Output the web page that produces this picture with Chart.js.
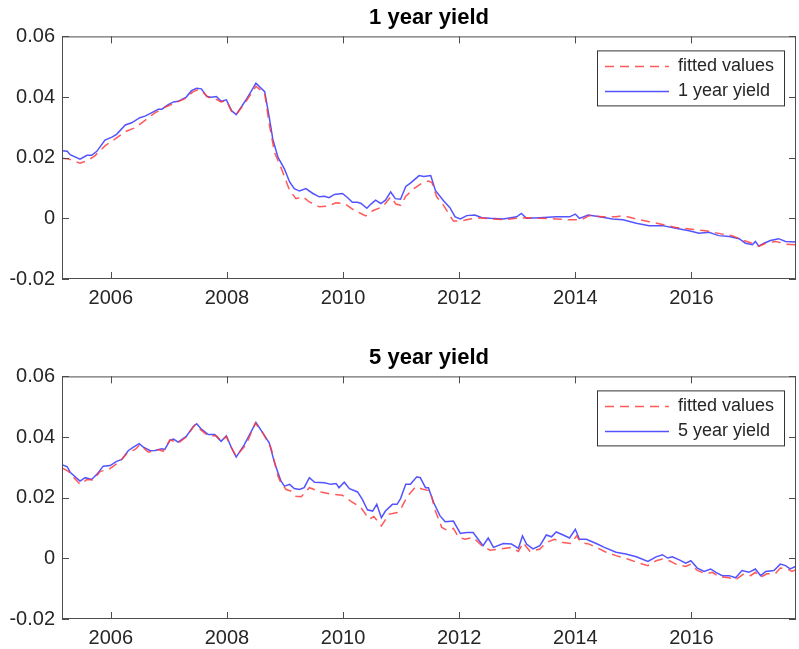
<!DOCTYPE html>
<html>
<head>
<meta charset="utf-8">
<script src="https://cdn.jsdelivr.net/npm/chart.js@4.4.1/dist/chart.umd.min.js"></script>
<style>
  body { margin: 0; background: #fff; overflow: hidden; width: 799px; height: 649px; }
  canvas { position: absolute; left: 0; }
  #grafico1 { top: 0; }
  #grafico5 { top: 340px; }
</style>
</head>
<body>
<canvas id="grafico1" width="799" height="325"></canvas>
<canvas id="grafico5" width="799" height="325"></canvas>
<script>
// ---- ticks ----
const xTicks = [2006, 2008, 2010, 2012, 2014, 2016];
const yTicks = [-0.02, 0, 0.02, 0.04, 0.06];
const xMin = 2005.16;
const xMax = 2017.8;

// ---- 1 year yield ----
const anos1Yield = [
  2005.16, 2005.25, 2005.30, 2005.47, 2005.59, 2005.67, 2005.76, 2005.90, 2006.02, 2006.10,
  2006.25, 2006.36, 2006.50, 2006.59, 2006.70, 2006.82, 2006.88, 2006.99, 2007.08, 2007.16,
  2007.30, 2007.39, 2007.48, 2007.56, 2007.65, 2007.73, 2007.82, 2007.90, 2007.99, 2008.08,
  2008.16, 2008.33, 2008.50, 2008.65, 2008.73, 2008.79, 2008.88, 2008.99, 2009.08, 2009.16,
  2009.25, 2009.36, 2009.48, 2009.59, 2009.68, 2009.76, 2009.85, 2009.99, 2010.08, 2010.16,
  2010.25, 2010.31, 2010.41, 2010.48, 2010.56, 2010.65, 2010.73, 2010.82, 2010.90, 2010.99,
  2011.08, 2011.16, 2011.31, 2011.39, 2011.51, 2011.59, 2011.73, 2011.84, 2011.93, 2012.02,
  2012.13, 2012.27, 2012.39, 2012.53, 2012.76, 2012.99, 2013.07, 2013.16, 2013.39, 2013.67,
  2013.90, 2014.00, 2014.07, 2014.22, 2014.42, 2014.64, 2014.82, 2015.05, 2015.27, 2015.50,
  2015.73, 2015.96, 2016.13, 2016.30, 2016.47, 2016.65, 2016.82, 2016.93, 2017.05, 2017.10,
  2017.16, 2017.25, 2017.36, 2017.50, 2017.62, 2017.79
];
const valores1Yield = [
  0.0223, 0.0221, 0.0210, 0.0195, 0.0208, 0.0208, 0.0221, 0.0258, 0.0268, 0.0277,
  0.0308, 0.0315, 0.0332, 0.0337, 0.0348, 0.0360, 0.0360, 0.0375, 0.0384, 0.0386,
  0.0400, 0.0421, 0.0429, 0.0427, 0.0402, 0.0399, 0.0402, 0.0386, 0.0391, 0.0355,
  0.0342, 0.0391, 0.0446, 0.0418, 0.0332, 0.0261, 0.0201, 0.0163, 0.0120, 0.0098,
  0.0090, 0.0098, 0.0082, 0.0071, 0.0073, 0.0068, 0.0079, 0.0082, 0.0068, 0.0053,
  0.0053, 0.0049, 0.0033, 0.0047, 0.0060, 0.0049, 0.0060, 0.0087, 0.0065, 0.0063,
  0.0105, 0.0116, 0.0141, 0.0138, 0.0141, 0.0092, 0.0058, 0.0035, 0.0005, -0.0002,
  0.0009, 0.0011, 0.0002, 0.0000, -0.0002, 0.0005, 0.0016, 0.0000, 0.0002, 0.0005,
  0.0005, 0.0014, 0.0000, 0.0011, 0.0005, -0.0002, -0.0005, -0.0016, -0.0024, -0.0024,
  -0.0033, -0.0041, -0.0049, -0.0046, -0.0057, -0.0060, -0.0067, -0.0082, -0.0087, -0.0076,
  -0.0092, -0.0082, -0.0073, -0.0067, -0.0076, -0.0078
];
const anos1Fit = [
  2005.16, 2005.27, 2005.47, 2005.62, 2005.73, 2005.90, 2006.07, 2006.25, 2006.42, 2006.59,
  2006.76, 2006.93, 2007.10, 2007.28, 2007.42, 2007.50, 2007.56, 2007.68, 2007.79, 2007.90,
  2007.99, 2008.08, 2008.16, 2008.33, 2008.50, 2008.65, 2008.73, 2008.82, 2008.93, 2009.08,
  2009.19, 2009.31, 2009.42, 2009.59, 2009.73, 2009.88, 2010.02, 2010.19, 2010.39, 2010.51,
  2010.68, 2010.82, 2010.91, 2010.99, 2011.08, 2011.22, 2011.36, 2011.47, 2011.53, 2011.61,
  2011.73, 2011.90, 2012.02, 2012.19, 2012.36, 2012.53, 2012.76, 2012.99, 2013.16, 2013.39,
  2013.67, 2013.90, 2014.10, 2014.24, 2014.47, 2014.70, 2014.82, 2015.05, 2015.27, 2015.50,
  2015.73, 2015.96, 2016.25, 2016.53, 2016.70, 2016.87, 2017.05, 2017.16, 2017.28, 2017.45,
  2017.62, 2017.79
];
const valores1Fit = [
  0.0198, 0.0196, 0.0182, 0.0192, 0.0207, 0.0239, 0.0261, 0.0286, 0.0299, 0.0323,
  0.0348, 0.0366, 0.0380, 0.0395, 0.0418, 0.0424, 0.0421, 0.0399, 0.0395, 0.0384,
  0.0388, 0.0353, 0.0342, 0.0386, 0.0435, 0.0413, 0.0310, 0.0217, 0.0168, 0.0092,
  0.0065, 0.0071, 0.0054, 0.0038, 0.0040, 0.0051, 0.0049, 0.0027, 0.0008, 0.0025,
  0.0038, 0.0071, 0.0047, 0.0043, 0.0073, 0.0098, 0.0116, 0.0123, 0.0118, 0.0072,
  0.0043, -0.0009, -0.0009, -0.0002, 0.0002, -0.0002, -0.0004, 0.0000, 0.0002, 0.0000,
  -0.0002, -0.0005, -0.0005, 0.0009, 0.0005, 0.0005, 0.0009, -0.0002, -0.0011, -0.0020,
  -0.0030, -0.0035, -0.0041, -0.0052, -0.0057, -0.0071, -0.0082, -0.0092, -0.0082, -0.0076,
  -0.0085, -0.0087
];

// ---- 5 year yield ----
const anos5Yield = [
  2005.16, 2005.25, 2005.30, 2005.47, 2005.56, 2005.67, 2005.76, 2005.87, 2005.99, 2006.10,
  2006.19, 2006.30, 2006.39, 2006.49, 2006.56, 2006.68, 2006.76, 2006.88, 2006.93, 2007.02,
  2007.08, 2007.16, 2007.30, 2007.42, 2007.48, 2007.56, 2007.68, 2007.79, 2007.90, 2007.99,
  2008.08, 2008.16, 2008.30, 2008.50, 2008.62, 2008.73, 2008.82, 2008.93, 2008.99, 2009.08,
  2009.16, 2009.25, 2009.33, 2009.42, 2009.51, 2009.68, 2009.79, 2009.88, 2009.93, 2010.02,
  2010.11, 2010.25, 2010.33, 2010.42, 2010.51, 2010.58, 2010.66, 2010.73, 2010.85, 2010.93,
  2010.99, 2011.08, 2011.16, 2011.27, 2011.33, 2011.42, 2011.47, 2011.56, 2011.67, 2011.76,
  2011.90, 2012.02, 2012.13, 2012.24, 2012.41, 2012.50, 2012.59, 2012.76, 2012.90, 2013.02,
  2013.09, 2013.16, 2013.27, 2013.39, 2013.50, 2013.59, 2013.67, 2013.79, 2013.90, 2014.00,
  2014.07, 2014.19, 2014.36, 2014.50, 2014.70, 2014.87, 2015.05, 2015.25, 2015.39, 2015.50,
  2015.59, 2015.67, 2015.79, 2015.90, 2015.99, 2016.10, 2016.22, 2016.33, 2016.42, 2016.53,
  2016.65, 2016.76, 2016.87, 2016.99, 2017.10, 2017.19, 2017.28, 2017.42, 2017.53, 2017.62,
  2017.70, 2017.79
];
const valores5Yield = [
  0.0309, 0.0302, 0.0284, 0.0255, 0.0266, 0.0260, 0.0277, 0.0304, 0.0306, 0.0320,
  0.0326, 0.0355, 0.0367, 0.0378, 0.0367, 0.0355, 0.0356, 0.0361, 0.0359, 0.0389,
  0.0393, 0.0383, 0.0402, 0.0435, 0.0444, 0.0426, 0.0408, 0.0408, 0.0386, 0.0404,
  0.0364, 0.0334, 0.0375, 0.0448, 0.0413, 0.0380, 0.0315, 0.0255, 0.0238, 0.0244,
  0.0230, 0.0227, 0.0233, 0.0266, 0.0251, 0.0249, 0.0244, 0.0247, 0.0233, 0.0251,
  0.0230, 0.0219, 0.0195, 0.0160, 0.0156, 0.0178, 0.0134, 0.0156, 0.0178, 0.0178,
  0.0197, 0.0244, 0.0244, 0.0269, 0.0266, 0.0233, 0.0233, 0.0184, 0.0140, 0.0121,
  0.0123, 0.0082, 0.0085, 0.0085, 0.0042, 0.0067, 0.0036, 0.0049, 0.0047, 0.0033,
  0.0074, 0.0047, 0.0031, 0.0042, 0.0077, 0.0071, 0.0087, 0.0077, 0.0067, 0.0096,
  0.0063, 0.0063, 0.0049, 0.0036, 0.0020, 0.0014, 0.0005, -0.0010, 0.0005, 0.0012,
  0.0001, 0.0005, -0.0005, -0.0016, -0.0008, -0.0032, -0.0043, -0.0035, -0.0046, -0.0057,
  -0.0057, -0.0064, -0.0040, -0.0046, -0.0035, -0.0057, -0.0043, -0.0040, -0.0019, -0.0024,
  -0.0035, -0.0027
];
const anos5Fit = [
  2005.16, 2005.27, 2005.47, 2005.59, 2005.70, 2005.82, 2005.96, 2006.13, 2006.30, 2006.42,
  2006.50, 2006.65, 2006.82, 2006.90, 2007.02, 2007.16, 2007.30, 2007.45, 2007.56, 2007.68,
  2007.82, 2007.90, 2007.99, 2008.08, 2008.16, 2008.33, 2008.49, 2008.62, 2008.76, 2008.88,
  2008.93, 2009.02, 2009.10, 2009.19, 2009.28, 2009.42, 2009.62, 2009.82, 2009.99, 2010.13,
  2010.31, 2010.45, 2010.53, 2010.66, 2010.79, 2010.93, 2010.99, 2011.11, 2011.25, 2011.36,
  2011.50, 2011.59, 2011.70, 2011.79, 2011.90, 2011.99, 2012.10, 2012.24, 2012.39, 2012.53,
  2012.70, 2012.90, 2013.02, 2013.10, 2013.22, 2013.39, 2013.50, 2013.64, 2013.79, 2013.93,
  2014.02, 2014.10, 2014.24, 2014.36, 2014.53, 2014.70, 2014.90, 2015.10, 2015.25, 2015.39,
  2015.50, 2015.62, 2015.73, 2015.90, 2015.99, 2016.10, 2016.25, 2016.36, 2016.47, 2016.65,
  2016.76, 2016.90, 2017.02, 2017.10, 2017.19, 2017.30, 2017.45, 2017.53, 2017.65, 2017.73,
  2017.79
];
const valores5Fit = [
  0.0298, 0.0287, 0.0244, 0.0260, 0.0258, 0.0287, 0.0293, 0.0315, 0.0350, 0.0359,
  0.0375, 0.0350, 0.0359, 0.0353, 0.0391, 0.0380, 0.0400, 0.0440, 0.0422, 0.0404,
  0.0404, 0.0386, 0.0402, 0.0364, 0.0337, 0.0375, 0.0446, 0.0413, 0.0364, 0.0271,
  0.0249, 0.0227, 0.0222, 0.0205, 0.0203, 0.0233, 0.0219, 0.0211, 0.0208, 0.0189,
  0.0167, 0.0129, 0.0138, 0.0107, 0.0145, 0.0151, 0.0162, 0.0205, 0.0236, 0.0229,
  0.0222, 0.0156, 0.0102, 0.0093, 0.0099, 0.0069, 0.0063, 0.0069, 0.0042, 0.0027,
  0.0031, 0.0036, 0.0023, 0.0052, 0.0023, 0.0031, 0.0052, 0.0063, 0.0052, 0.0049,
  0.0074, 0.0052, 0.0047, 0.0036, 0.0020, 0.0009, -0.0002, -0.0016, -0.0024, -0.0008,
  -0.0002, -0.0008, -0.0019, -0.0027, -0.0019, -0.0040, -0.0051, -0.0046, -0.0060, -0.0064,
  -0.0071, -0.0051, -0.0057, -0.0046, -0.0062, -0.0051, -0.0049, -0.0032, -0.0035, -0.0043,
  -0.0038
];

const fonte = "'Liberation Sans', Arial, Helvetica, sans-serif";
const corEixo = "#4d4d4d";
const corTexto = "#262626";

function pontos(anos, valores) {
  return anos.map((a, i) => ({ x: a, y: valores[i] }));
}

function formatarTick(v) {
  return String(Number(v.toFixed(2)));
}

// moldura estilo matlab + ticks para dentro + legenda dentro do eixo
const caixaPlugin = {
  id: "caixaMatlab",
  afterDatasetsDraw(chart) {
    const { ctx, chartArea: a, scales } = chart;
    const x = scales.x;
    const y = scales.y;

    ctx.save();
    ctx.strokeStyle = corEixo;
    ctx.lineWidth = 1;
    ctx.strokeRect(a.left + 0.5, a.top + 0.5, a.width - 1, a.height - 1);

    ctx.beginPath();
    x.ticks.forEach((t) => {
      const px = Math.round(x.getPixelForValue(t.value)) + 0.5;
      ctx.moveTo(px, a.bottom);
      ctx.lineTo(px, a.bottom - 7);
      ctx.moveTo(px, a.top);
      ctx.lineTo(px, a.top + 7);
    });
    y.ticks.forEach((t) => {
      const py = Math.round(y.getPixelForValue(t.value)) + 0.5;
      ctx.moveTo(a.left, py);
      ctx.lineTo(a.left + 7, py);
      ctx.moveTo(a.right, py);
      ctx.lineTo(a.right - 7, py);
    });
    ctx.stroke();

    // legenda
    const lx = a.right - 199;
    const ly = a.top + 14;
    const lw = 187;
    const lh = 55;
    ctx.fillStyle = "#fff";
    ctx.fillRect(lx, ly, lw, lh);
    ctx.strokeStyle = "#333";
    ctx.strokeRect(lx + 0.5, ly + 0.5, lw, lh);

    ctx.font = `18px ${fonte}`;
    ctx.textBaseline = "middle";
    chart.data.datasets.forEach((ds, i) => {
      const yy = ly + 16 + i * 25;
      ctx.beginPath();
      ctx.strokeStyle = ds.borderColor;
      ctx.lineWidth = ds.borderWidth;
      ctx.setLineDash(ds.borderDash || []);
      ctx.moveTo(lx + 8, yy);
      ctx.lineTo(lx + 72, yy);
      ctx.stroke();
      ctx.setLineDash([]);
      ctx.fillStyle = corTexto;
      ctx.fillText(ds.label, lx + 81, yy);
    });
    ctx.restore();
  },
};

function montarGrafico(id, titulo, rotuloYield, anosFit, valFit, anosYield, valYield) {
  const ctx = document.getElementById(id).getContext("2d");
  return new Chart(ctx, {
    type: "line",
    data: {
      datasets: [
        {
          label: "fitted values",
          data: pontos(anosFit, valFit),
          borderColor: "rgba(255, 60, 60, 0.85)",
          borderWidth: 1.5,
          borderDash: [9, 6],
          pointRadius: 0,
          tension: 0,
        },
        {
          label: rotuloYield,
          data: pontos(anosYield, valYield),
          borderColor: "rgba(40, 40, 255, 0.8)",
          borderWidth: 1.5,
          pointRadius: 0,
          tension: 0,
        },
      ],
    },
    options: {
      responsive: false,
      animation: false,
      layout: { padding: { right: 3, left: 0, top: 0, bottom: 0 } },
      plugins: {
        legend: { display: false },
        tooltip: { enabled: false },
        title: {
          display: true,
          text: titulo,
          fullSize: false,
          color: "#000",
          font: { family: fonte, size: 22, weight: "bold" },
          padding: { top: 5, bottom: 5 },
        },
      },
      scales: {
        x: {
          type: "linear",
          min: xMin,
          max: xMax,
          afterBuildTicks: (scale) => {
            scale.ticks = xTicks.map((v) => ({ value: v }));
          },
          afterFit: (scale) => {
            scale.height = 46;
          },
          grid: { display: false, drawTicks: false },
          border: { display: false },
          ticks: {
            color: corTexto,
            font: { family: fonte, size: 20 },
            padding: 7,
            maxRotation: 0,
            callback: (v) => String(v),
          },
        },
        y: {
          min: -0.02,
          max: 0.06,
          afterBuildTicks: (scale) => {
            scale.ticks = yTicks.map((v) => ({ value: v }));
          },
          afterFit: (scale) => {
            scale.width = 62;
          },
          grid: { display: false, drawTicks: false },
          border: { display: false },
          ticks: {
            color: corTexto,
            font: { family: fonte, size: 20 },
            padding: 7,
            callback: (v) => formatarTick(v),
          },
        },
      },
    },
    plugins: [caixaPlugin],
  });
}

montarGrafico("grafico1", "1 year yield", "1 year yield", anos1Fit, valores1Fit, anos1Yield, valores1Yield);
montarGrafico("grafico5", "5 year yield", "5 year yield", anos5Fit, valores5Fit, anos5Yield, valores5Yield);
</script>
</body>
</html>
